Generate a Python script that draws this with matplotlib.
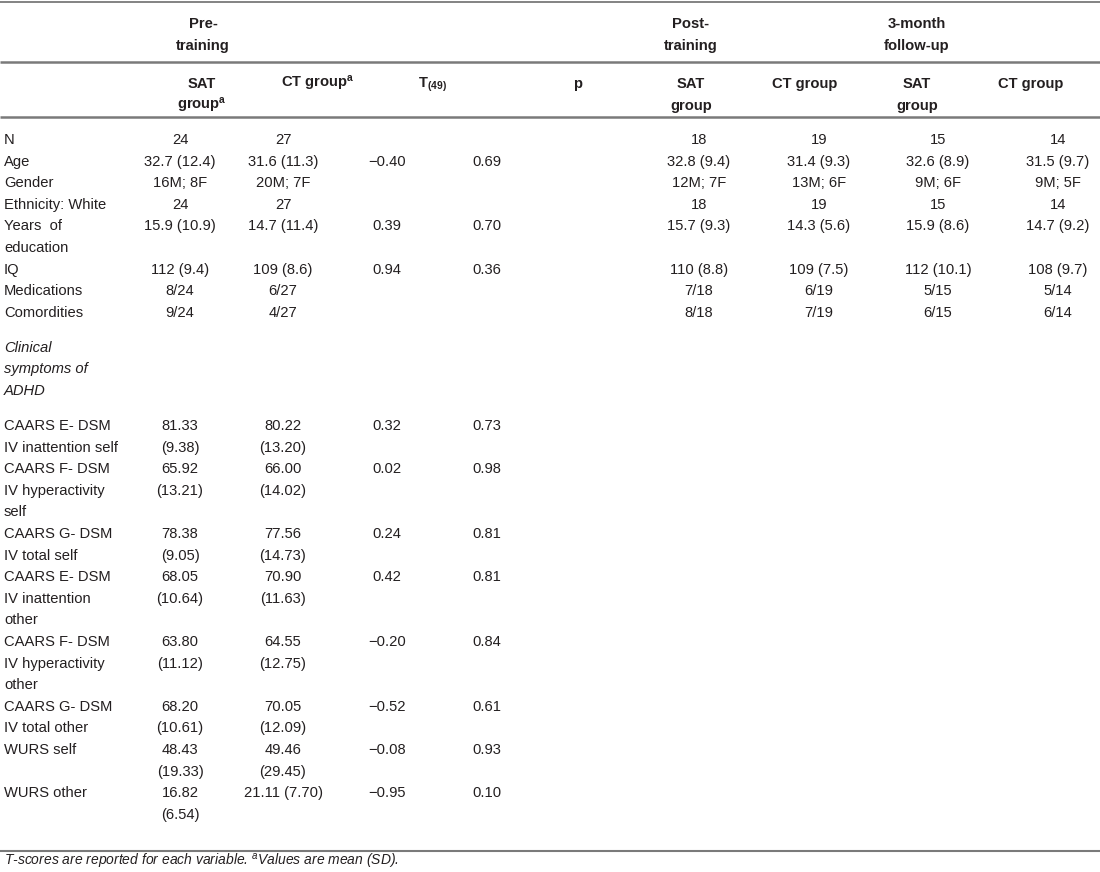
import matplotlib
matplotlib.use("Agg")
import matplotlib.pyplot as plt

FONT = ["Liberation Sans", "DejaVu Sans"]
plt.rcParams["font.family"] = FONT
plt.rcParams["mathtext.fontset"] = "custom"
plt.rcParams["mathtext.rm"] = "Liberation Sans"
plt.rcParams["mathtext.bf"] = "Liberation Sans:bold"
plt.rcParams["mathtext.it"] = "Liberation Sans:italic"

# ---- data ----
top_headers = ["Pre-\ntraining", "Post-\ntraining", "3-month\nfollow-up"]
sub_headers = ["SAT\ngroup$^{\\mathbf{a}}$", "CT group$^{\\mathbf{a}}$", "T$_{\\mathbf{(49)}}$", "p",
               "SAT\ngroup", "CT group", "SAT\ngroup", "CT group"]

demo_labels = ["N", "Age", "Gender", "Ethnicity: White", "Years  of\neducation",
               "IQ", "Medications", "Comordities"]
sat_pre = ["24", "32.7 (12.4)", "16M; 8F", "24", "15.9 (10.9)", "112 (9.4)", "8/24", "9/24"]
ct_pre = ["27", "31.6 (11.3)", "20M; 7F", "27", "14.7 (11.4)", "109 (8.6)", "6/27", "4/27"]
t_pre = ["", "\u22120.40", "", "", "0.39", "0.94", "", ""]
p_pre = ["", "0.69", "", "", "0.70", "0.36", "", ""]
sat_post = ["18", "32.8 (9.4)", "12M; 7F", "18", "15.7 (9.3)", "110 (8.8)", "7/18", "8/18"]
ct_post = ["19", "31.4 (9.3)", "13M; 6F", "19", "14.3 (5.6)", "109 (7.5)", "6/19", "7/19"]
sat_fu = ["15", "32.6 (8.9)", "9M; 6F", "15", "15.9 (8.6)", "112 (10.1)", "5/15", "6/15"]
ct_fu = ["14", "31.5 (9.7)", "9M; 5F", "14", "14.7 (9.2)", "108 (9.7)", "5/14", "6/14"]

section_label = "Clinical\nsymptoms of\nADHD"
clin_labels = ["CAARS E- DSM\nIV inattention self", "CAARS F- DSM\nIV hyperactivity\nself",
               "CAARS G- DSM\nIV total self", "CAARS E- DSM\nIV inattention\nother",
               "CAARS F- DSM\nIV hyperactivity\nother", "CAARS G- DSM\nIV total other",
               "WURS self", "WURS other"]
sat_means = [81.33, 65.92, 78.38, 68.05, 63.80, 68.20, 48.43, 16.82]
sat_sds = [9.38, 13.21, 9.05, 10.64, 11.12, 10.61, 19.33, 6.54]
ct_means = [80.22, 66.00, 77.56, 70.90, 64.55, 70.05, 49.46, 21.11]
ct_sds = [13.20, 14.02, 14.73, 11.63, 12.75, 12.09, 29.45, 7.70]
t_vals = [0.32, 0.02, 0.24, 0.42, -0.20, -0.52, -0.08, -0.95]
p_vals = [0.73, 0.98, 0.81, 0.81, 0.84, 0.61, 0.93, 0.10]

footnote = "T-scores are reported for each variable. $^{a}$Values are mean (SD)."

# ---- layout (pixels) ----
W, H = 1100, 872
col_x = [180, 283, 387, 487, 699, 819, 938, 1058]
head_x = [202, 318, 432, 578, 691, 805, 917, 1031]
top_x = [203, 691, 917]
label_x = 4
step = 21.6
gap = 13.4
txt = "#231f20"
fs = 10.6


def fmt(v):
    return f"{v:.2f}".replace("-", "\u2212")


fig = plt.figure(figsize=(W / 100, H / 100), dpi=100)
ax = fig.add_axes([0, 0, 1, 1])
ax.set_xlim(0, W)
ax.set_ylim(H, 0)
ax.axis("off")


def put(x, y, s, ha="center", **kw):
    # draw a multi-line cell, one baseline per line
    for i, line in enumerate(s.split("\n")):
        if line:
            ax.text(x, y + i * step, line, ha=ha, va="baseline", fontsize=fs, color=txt, **kw)
    return len(s.split("\n"))


# rules
for yy, lw in [(2.5, 1.3), (62, 1.8), (117, 1.8), (851, 1.5)]:
    ax.plot([0, W], [yy, yy], color="#7a7a7a", lw=lw, solid_capstyle="butt")

# headers
for x, s in zip(top_x, top_headers):
    put(x, 28, s, fontweight="bold")
for x, s in zip(head_x, sub_headers):
    put(x, 88, s, fontweight="bold")

# demographic rows
y = 144
cols = [sat_pre, ct_pre, t_pre, p_pre, sat_post, ct_post, sat_fu, ct_fu]
for r, lab in enumerate(demo_labels):
    n = put(label_x, y, lab, ha="left")
    for x, c in zip(col_x, cols):
        n = max(n, put(x, y, c[r]))
    y += n * step

y += gap
n = put(label_x, y, section_label, ha="left", fontstyle="italic")
y += n * step + gap

# clinical rows
for r, lab in enumerate(clin_labels):
    sat_cell = fmt(sat_means[r]) + "\n(" + fmt(sat_sds[r]) + ")"
    ct_sep = " " if r == len(clin_labels) - 1 else "\n"
    ct_cell = fmt(ct_means[r]) + ct_sep + "(" + fmt(ct_sds[r]) + ")"
    n = put(label_x, y, lab, ha="left")
    n = max(n, put(col_x[0], y, sat_cell))
    n = max(n, put(col_x[1], y, ct_cell))
    put(col_x[2], y, fmt(t_vals[r]))
    put(col_x[3], y, fmt(p_vals[r]))
    y += n * step

ax.text(label_x, 866, footnote, ha="left", va="baseline", fontsize=10,
        color=txt, fontstyle="italic")

fig.savefig("out.png", dpi=100)
